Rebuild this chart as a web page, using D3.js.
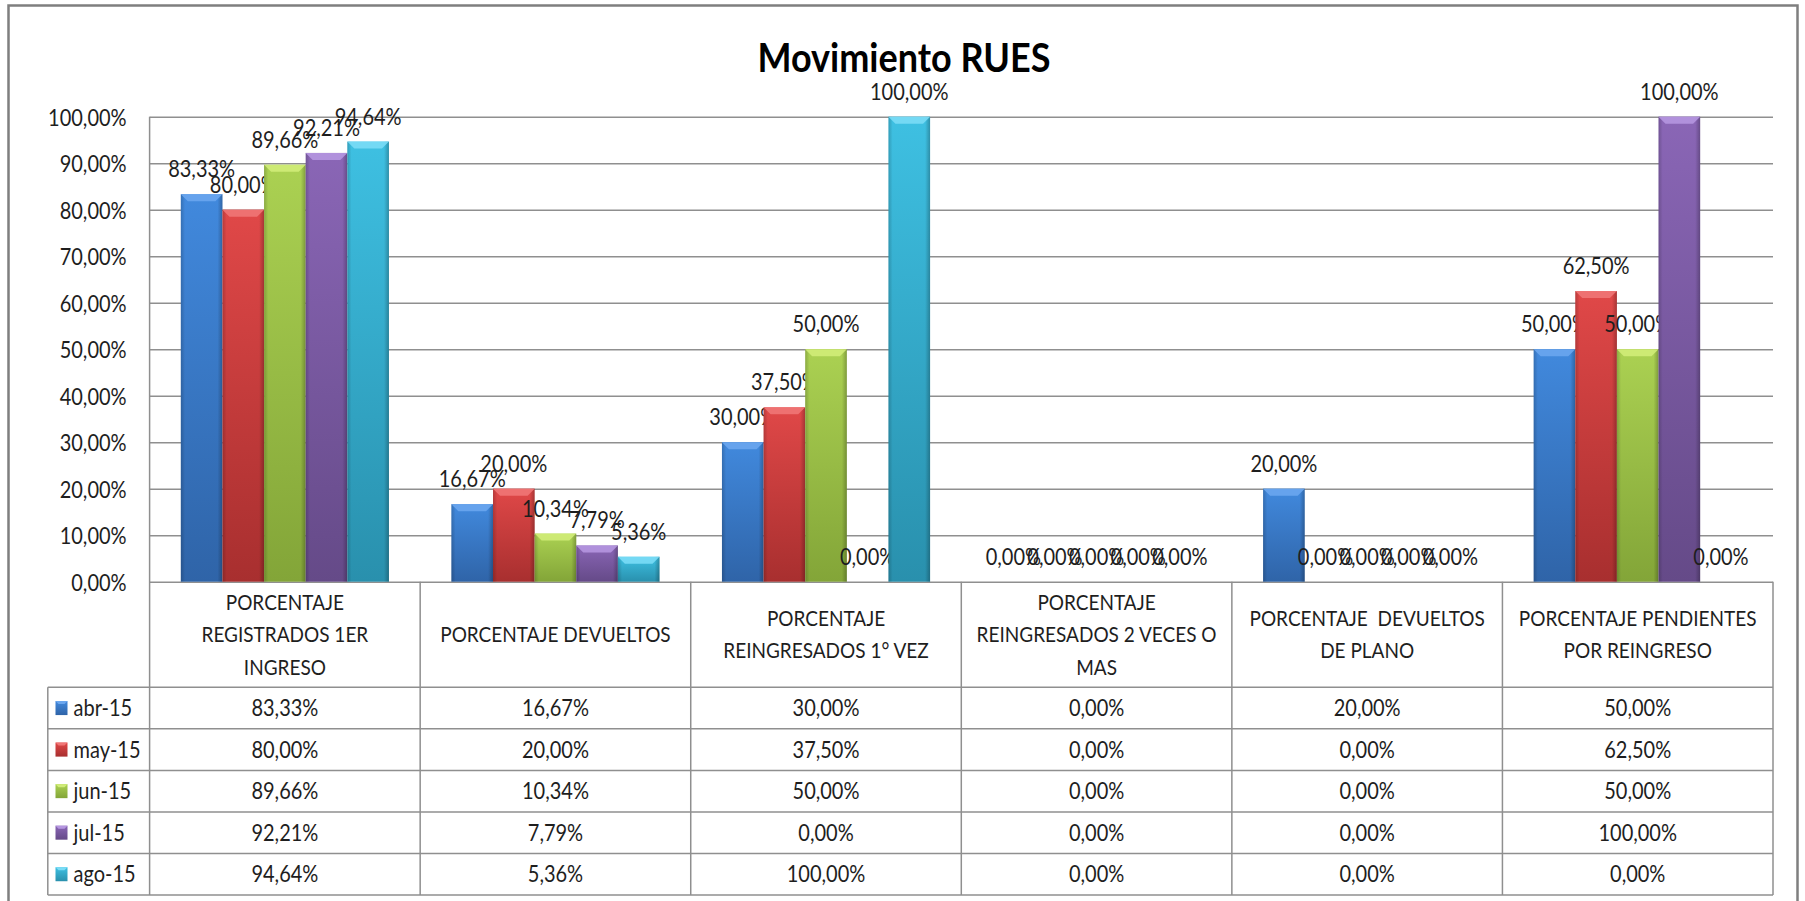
<!DOCTYPE html>
<html>
<head>
<meta charset="utf-8">
<script src="https://cdn.jsdelivr.net/npm/d3@7"></script>
<style>
  body { margin: 0; background: #fff; }
  svg text { font-family: Lato, "Open Sans", sans-serif; fill: #1e1e1e; }
</style>
</head>
<body>
<div id="chart"></div>
<script>
// categories (header lines of the data table)
var categories = ["c1", "c2", "c3", "c4", "c5", "c6"];
var categoryLines = [
  ["PORCENTAJE", "REGISTRADOS 1ER", "INGRESO"],
  ["PORCENTAJE DEVUELTOS"],
  ["PORCENTAJE", "REINGRESADOS 1° VEZ"],
  ["PORCENTAJE", "REINGRESADOS 2 VECES O", "MAS"],
  ["PORCENTAJE  DEVUELTOS", "DE PLANO"],
  ["PORCENTAJE PENDIENTES", "POR REINGRESO"]
];
var seriesNames = ["abr-15", "may-15", "jun-15", "jul-15", "ago-15"];
var abr15 = [83.33, 16.67, 30.00, 0, 20.00, 50.00];
var may15 = [80.00, 20.00, 37.50, 0, 0, 62.50];
var jun15 = [89.66, 10.34, 50.00, 0, 0, 50.00];
var jul15 = [92.21, 7.79, 0, 0, 0, 100.00];
var ago15 = [94.64, 5.36, 100.00, 0, 0, 0];
var yTicks = [0, 10, 20, 30, 40, 50, 60, 70, 80, 90, 100];

var seriesValues = [abr15, may15, jun15, jul15, ago15];
var colors = [
  {top: "#4189dd", bot: "#2f64a8", bevel: "#6aa6ee"},
  {top: "#e04848", bot: "#a82f2f", bevel: "#f07676"},
  {top: "#abd152", bot: "#83a538", bevel: "#d0ec78"},
  {top: "#8a66b6", bot: "#654a88", bevel: "#b596e0"},
  {top: "#3ec0e2", bot: "#2990ad", bevel: "#7adcf6"}
];

var width = 1805, height = 901;
var plot = {left: 149.6, right: 1773, top: 116.7, bottom: 581.7};
var rowH = 41.54;
var headerBottom = 687.3;
var tableLeft = 47.8;
var stretch = 1.13; // text in the reference is a bit taller than wide

var locale = d3.formatLocale({decimal: ",", thousands: ".", grouping: [3], currency: ["", "€"]});
var fmt = function(v) { return locale.format(".2f")(v) + "%"; };

var svg = d3.select("#chart").append("svg")
  .attr("width", width)
  .attr("height", height);

function addText(parent, x, yy, str, anchor, size, dy) {
  return parent.append("text")
    .attr("transform", "translate(" + x + "," + yy + ") scale(1," + stretch + ")")
    .attr("dy", dy || 0)
    .attr("text-anchor", anchor)
    .style("font-size", size + "px")
    .style("white-space", "pre")
    .text(str);
}

var defs = svg.append("defs");
colors.forEach(function(c, i) {
  var g = defs.append("linearGradient").attr("id", "grad" + i)
    .attr("x1", 0).attr("y1", 0).attr("x2", 0).attr("y2", 1);
  g.append("stop").attr("offset", "0%").attr("stop-color", c.top);
  g.append("stop").attr("offset", "100%").attr("stop-color", c.bot);
});
var side = defs.append("linearGradient").attr("id", "side")
  .attr("x1", 0).attr("y1", 0).attr("x2", 1).attr("y2", 0);
side.append("stop").attr("offset", "0%").attr("stop-color", "#000").attr("stop-opacity", 0.18);
side.append("stop").attr("offset", "10%").attr("stop-color", "#000").attr("stop-opacity", 0);
side.append("stop").attr("offset", "88%").attr("stop-color", "#000").attr("stop-opacity", 0);
side.append("stop").attr("offset", "100%").attr("stop-color", "#000").attr("stop-opacity", 0.25);

// outer frame
svg.append("rect")
  .attr("x", 8.5).attr("y", 5.5)
  .attr("width", 1789).attr("height", 910)
  .attr("fill", "none")
  .attr("stroke", "#7f7f7f")
  .attr("stroke-width", 2.5);

// title
addText(svg, 904, 72, "Movimiento RUES", "middle", 36)
  .style("font-weight", "bold")
  .style("fill", "#000");

var x0 = d3.scaleBand().domain(categories).range([plot.left, plot.right]).paddingInner(0).paddingOuter(0);
var x1 = d3.scaleBand().domain(seriesNames).range([0, x0.bandwidth()]).paddingInner(0).paddingOuter(0.75);
var y = d3.scaleLinear().domain([0, 100]).range([plot.bottom, plot.top]);

// gridlines + y labels
var yAxis = svg.append("g")
  .attr("class", "y axis")
  .attr("transform", "translate(" + plot.left + ",0)")
  .call(d3.axisLeft(y).tickValues(yTicks)
    .tickSize(-(plot.right - plot.left))
    .tickPadding(23)
    .tickFormat(fmt));
yAxis.select(".domain").remove();
yAxis.selectAll("line").attr("stroke", "#8f8f8f").attr("stroke-width", 1.5);
yAxis.selectAll("text")
  .attr("dy", "0.38em")
  .attr("transform", "scale(1," + stretch + ")")
  .style("font-size", "20px")
  .style("font-family", "Lato, 'Open Sans', sans-serif")
  .style("fill", "#1e1e1e");

// bars
var groups = svg.selectAll(".grp")
  .data(seriesNames)
  .enter().append("g")
  .attr("class", "grp");

groups.each(function(s, si) {
  var g = d3.select(this);
  var vals = seriesValues[si];
  vals.forEach(function(v, ci) {
    var bx = x0(categories[ci]) + x1(s);
    var bw = x1.bandwidth();
    var top = y(v);
    var h = y(0) - top;
    if (h > 0) {
      g.append("rect").attr("x", bx).attr("y", top).attr("width", bw).attr("height", h)
        .attr("fill", "url(#grad" + si + ")");
      g.append("rect").attr("x", bx).attr("y", top).attr("width", bw).attr("height", h)
        .attr("fill", "url(#side)");
      var b = Math.min(7, h / 2);
      g.append("polygon")
        .attr("points", [[bx, top], [bx + bw, top], [bx + bw - b, top + b], [bx + b, top + b]].join(" "))
        .attr("fill", colors[si].bevel)
        .attr("opacity", 0.9);
    }
    addText(g, bx + bw / 2, top - 17, fmt(v), "middle", 20);
  });
});

// table
var table = svg.append("g").attr("class", "table");
var lineColor = "#8f8f8f";

// vertical axis line down through the table
table.append("line")
  .attr("x1", plot.left).attr("x2", plot.left)
  .attr("y1", plot.top).attr("y2", headerBottom + rowH * 5)
  .attr("stroke", lineColor).attr("stroke-width", 1.5);

// category dividers and header text
categories.forEach(function(c, i) {
  var xx = x0(c) + x0.bandwidth();
  table.append("line")
    .attr("x1", xx).attr("x2", xx)
    .attr("y1", plot.bottom).attr("y2", headerBottom + rowH * 5)
    .attr("stroke", lineColor).attr("stroke-width", 1.5);
  var lines = categoryLines[i];
  var cy = (plot.bottom + headerBottom) / 2;
  var lh = 32.3;
  lines.forEach(function(t, li) {
    addText(table, x0(c) + x0.bandwidth() / 2, cy + (li - (lines.length - 1) / 2) * lh,
      t, "middle", 19, "0.36em");
  });
});

// left edge of legend column
table.append("line")
  .attr("x1", tableLeft).attr("x2", tableLeft)
  .attr("y1", headerBottom).attr("y2", headerBottom + rowH * 5)
  .attr("stroke", lineColor).attr("stroke-width", 1.5);

// horizontal row lines
for (var r = 0; r <= 5; r++) {
  table.append("line")
    .attr("x1", tableLeft).attr("x2", plot.right)
    .attr("y1", headerBottom + r * rowH).attr("y2", headerBottom + r * rowH)
    .attr("stroke", lineColor).attr("stroke-width", 1.5);
}

seriesNames.forEach(function(s, si) {
  var cy = headerBottom + si * rowH + rowH / 2;
  table.append("rect")
    .attr("x", 55.5).attr("y", cy - 7)
    .attr("width", 12).attr("height", 14)
    .attr("fill", "url(#grad" + si + ")");
  table.append("polygon")
    .attr("points", [[55.5, cy - 7], [67.5, cy - 7], [64.5, cy - 4], [58.5, cy - 4]].join(" "))
    .attr("fill", colors[si].bevel);
  addText(table, 73.5, cy, s, "start", 20, "0.36em");
  seriesValues[si].forEach(function(v, ci) {
    addText(table, x0(categories[ci]) + x0.bandwidth() / 2, cy, fmt(v), "middle", 20, "0.36em");
  });
});
</script>
</body>
</html>
